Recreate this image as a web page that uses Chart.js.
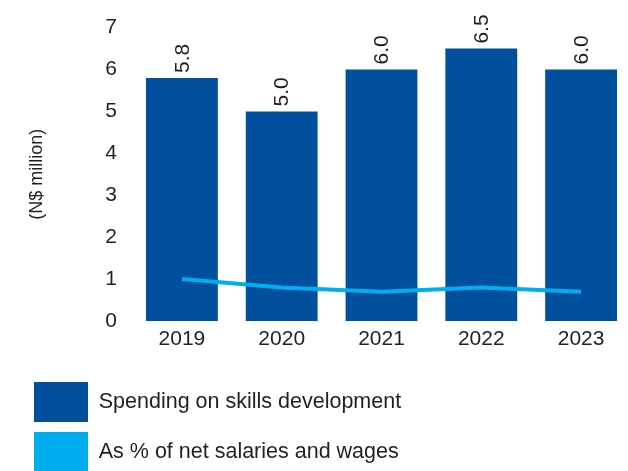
<!DOCTYPE html>
<html>
<head>
<meta charset="utf-8">
<script src="https://cdn.jsdelivr.net/npm/chart.js@4"></script>
<style>
  html, body { margin: 0; padding: 0; background: #ffffff; overflow: hidden; }
  canvas { display: block; }
</style>
</head>
<body>
<canvas id="chart" width="640" height="482" style="width:640px;height:482px"></canvas>
<script>
// Skills development spending, 2019-2023
const years = ['2019', '2020', '2021', '2022', '2023'];
const spending = [5.8, 5.0, 6.0, 6.5, 6.0];          // N$ million
const pctOfSalaries = [1.0, 0.8, 0.7, 0.8, 0.7];     // % of net salaries and wages
const yTicks = [0, 1, 2, 3, 4, 5, 6, 7];

const DARK_BLUE = '#00509e';
const LIGHT_BLUE = '#00aeef';
const TEXT = '#231f20';
const FONT = "'Liberation Sans', Arial, sans-serif";

// Value labels written vertically above each bar
const barValueLabels = {
  id: 'barValueLabels',
  afterDatasetsDraw(chart) {
    const ctx = chart.ctx;
    chart.data.datasets.forEach((ds, i) => {
      if (ds.type !== 'bar') return;
      const meta = chart.getDatasetMeta(i);
      meta.data.forEach((bar, j) => {
        ctx.save();
        ctx.translate(bar.x + 1, bar.y - 5);
        ctx.rotate(-Math.PI / 2);
        ctx.font = '21px ' + FONT;
        ctx.fillStyle = TEXT;
        ctx.textAlign = 'left';
        ctx.textBaseline = 'middle';
        ctx.fillText(ds.data[j].toFixed(1), 0, 0);
        ctx.restore();
      });
    });
  }
};

new Chart(document.getElementById('chart'), {
  data: {
    labels: years,
    datasets: [
      {
        type: 'bar',
        label: 'Spending on skills development',
        data: spending,
        backgroundColor: DARK_BLUE,
        borderWidth: 0,
        barPercentage: 0.72,
        categoryPercentage: 1.0,
        order: 2
      },
      {
        type: 'line',
        label: 'As % of net salaries and wages',
        data: pctOfSalaries,
        borderColor: LIGHT_BLUE,
        backgroundColor: LIGHT_BLUE,
        borderWidth: 4,
        pointRadius: 0,
        tension: 0,
        fill: false,
        order: 1
      }
    ]
  },
  options: {
    responsive: false,
    devicePixelRatio: 1,
    animation: false,
    layout: { padding: { top: 26, left: 24, right: 9, bottom: 0 } },
    plugins: {
      tooltip: { enabled: false },
      legend: {
        position: 'bottom',
        align: 'start',
        labels: {
          boxWidth: 54,
          boxHeight: 40,
          padding: 10,
          color: TEXT,
          font: { family: FONT, size: 21.5 },
          sort: (a, b) => a.datasetIndex - b.datasetIndex,
          generateLabels(chart) {
            return Chart.defaults.plugins.legend.labels.generateLabels(chart).map(item => {
              const ds = chart.data.datasets[item.datasetIndex];
              item.fillStyle = ds.type === 'bar' ? DARK_BLUE : LIGHT_BLUE;
              item.strokeStyle = item.fillStyle;
              item.lineWidth = 0;
              return item;
            });
          }
        }
      }
    },
    scales: {
      x: {
        grid: { display: false, drawTicks: false },
        border: { display: false },
        ticks: { color: TEXT, padding: 6, font: { family: FONT, size: 21 } },
        afterFit(scale) { scale.height = 51; }
      },
      y: {
        min: 0,
        max: 7,
        grid: { display: false, drawTicks: false },
        border: { display: false },
        afterBuildTicks(scale) { scale.ticks = yTicks.map(v => ({ value: v })); },
        ticks: { color: TEXT, padding: 15, font: { family: FONT, size: 21 } },
        title: {
          display: true,
          text: '(N$ million)',
          color: TEXT,
          padding: { top: 2, bottom: 0 },
          font: { family: FONT, size: 18 }
        },
        afterFit(scale) { scale.width = 108; }
      }
    }
  },
  plugins: [barValueLabels]
});
</script>
</body>
</html>
